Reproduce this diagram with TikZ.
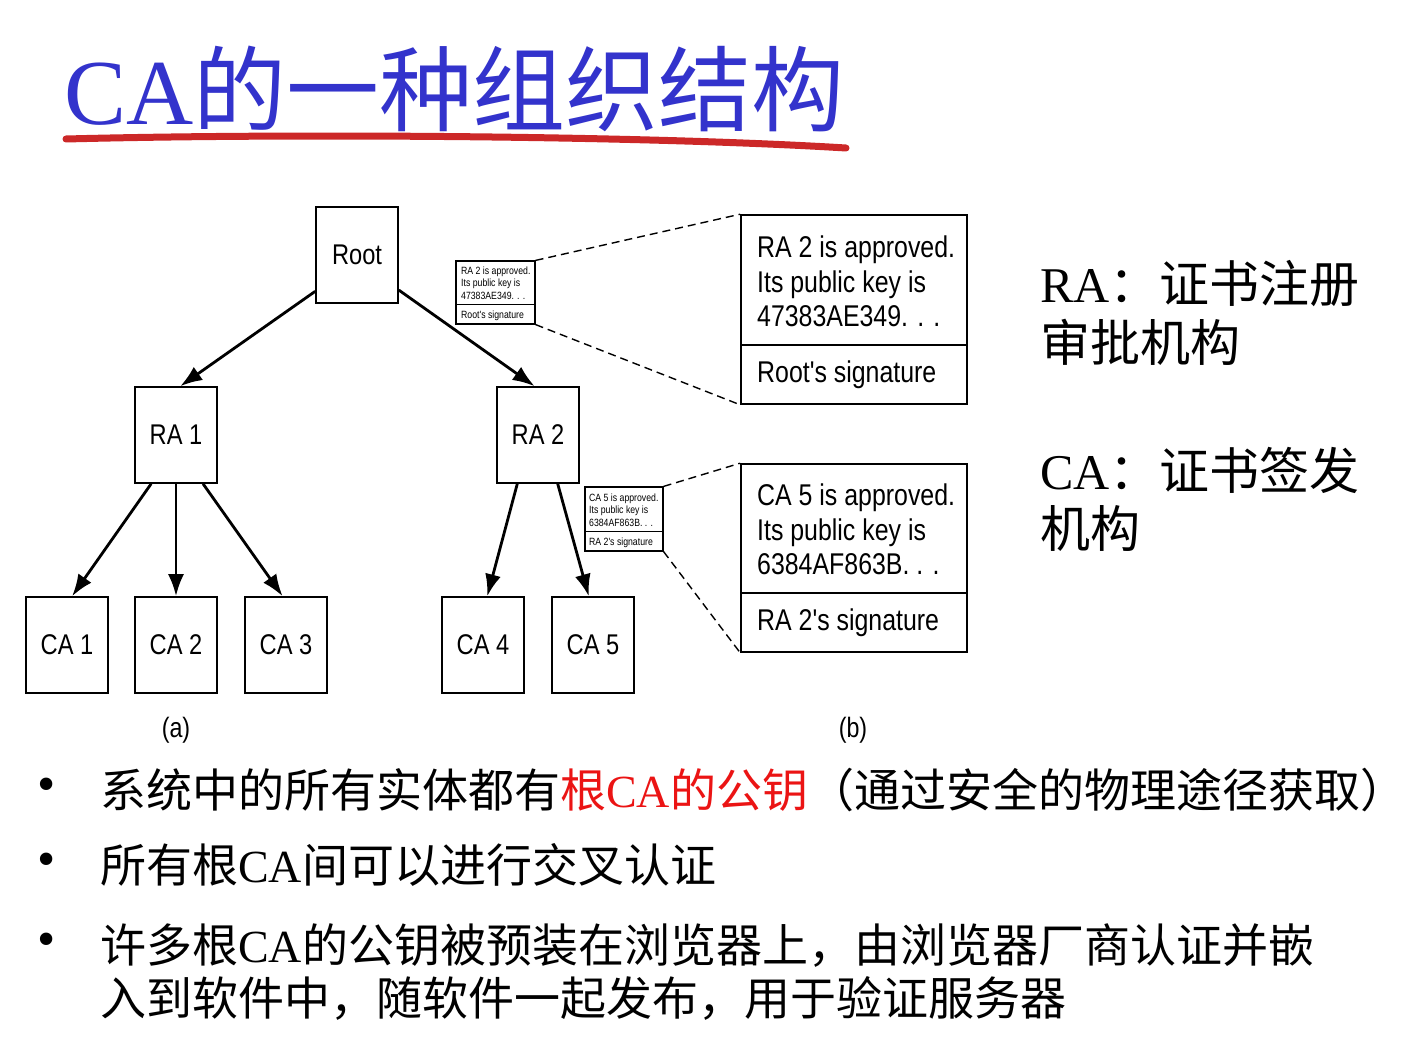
\documentclass[tikz,border=0pt]{standalone}
\usepackage{fontspec}
\setmainfont{Liberation Serif}
\newfontfamily\cjk{Noto Sans CJK SC}
\newfontfamily\helv[FakeStretch=0.83]{Liberation Sans}
\usetikzlibrary{arrows.meta}
\definecolor{titleblue}{RGB}{51,51,204}
\definecolor{ulred}{RGB}{204,40,40}
\definecolor{hlred}{RGB}{235,20,20}
\begin{document}
\begin{tikzpicture}[x=1pt,y=-1pt,
  box/.style={draw,line width=1.6pt,minimum width=82pt,minimum height=96pt,inner sep=0,font=\helv\fontsize{28.5}{30}\selectfont},
  cert/.style={draw,line width=1.6pt,inner sep=0},
  smallcert/.style={draw,line width=1.2pt,inner sep=0},
  bigtxt/.style={anchor=base west,inner sep=0,font=\helv\fontsize{30}{32}\selectfont},
  smalltxt/.style={anchor=base west,inner sep=0,font=\helv\fontsize{10.5}{11}\selectfont},
  arr/.style={line width=2.8pt,-{Latex[length=22pt,width=16pt]}},
  dashline/.style={line width=1.4pt,dash pattern=on 8pt off 5pt},
  sidetxt/.style={anchor=base west,inner sep=0,font=\fontsize{50}{60}\selectfont},
  bultxt/.style={anchor=base west,inner sep=0,font=\fontsize{46}{50}\selectfont},
  bul/.style={anchor=center,inner sep=0,font=\fontsize{52}{56}\selectfont},
  caplbl/.style={inner sep=0,font=\helv\fontsize{28}{30}\selectfont}]
\useasboundingbox (0,0) rectangle (1427,1049);
\fill[white] (0,0) rectangle (1427,1049);

% title
\node (title) [anchor=base west,inner sep=0,text=titleblue,font=\fontsize{93}{100}\selectfont] at (64,124) {CA{\cjk 的一种组织结构}};
\draw[ulred,line width=7pt,line cap=round] (66,139) .. controls (300,133) and (650,136) .. (846,148);

% tree
\node[box] (root) at (357,255) {Root};
\node[box] (ra1) at (176,435) {RA 1};
\node[box] (ra2) at (538,435) {RA 2};
\node[box] (ca1) at (67,645) {CA 1};
\node[box] (ca2) at (176,645) {CA 2};
\node[box] (ca3) at (286,645) {CA 3};
\node[box] (ca4) at (483,645) {CA 4};
\node[box] (ca5) at (593,645) {CA 5};

\draw[arr] (root.221) -- (ra1.85);
\draw[arr] (root.-40) -- (ra2.94);
\draw[arr] (ra1.-117) -- (ca1.84);
\draw[arr] (ra1.south) -- (ca2.north);
\draw[arr] (ra1.-61) -- (ca3.94);
\draw[arr] (ra2.-113) -- (ca4.85);
\draw[arr] (ra2.-68) -- (ca5.95);

% small certificates
\node[smallcert,minimum width=79pt,minimum height=63pt] (sa) at (495.5,292.5) {};
\draw[line width=1.2pt] ([yshift=20pt]sa.south west) -- ([yshift=20pt]sa.south east);
\node[smalltxt] (sa1) at (461,274) {RA 2 is approved.};
\node[smalltxt] (sa2) at (461,286.5) {Its public key is};
\node[smalltxt] (sa3) at (461,299) {47383AE349. . .};
\node[smalltxt] (sa4) at (461,318) {Root's signature};

\node[smallcert,minimum width=78pt,minimum height=64pt] (sb) at (624,519) {};
\draw[line width=1.2pt] ([yshift=20pt]sb.south west) -- ([yshift=20pt]sb.south east);
\node[smalltxt] (sb1) at (589,501) {CA 5 is approved.};
\node[smalltxt] (sb2) at (589,513.5) {Its public key is};
\node[smalltxt] (sb3) at (589,526) {6384AF863B. . .};
\node[smalltxt] (sb4) at (589,545) {RA 2's signature};

% big certificates
\node[cert,minimum width=226pt,minimum height=189pt] (ba) at (854,309.5) {};
\draw[line width=1.6pt] ([yshift=60pt]ba.south west) -- ([yshift=60pt]ba.south east);
\node[bigtxt] (ba1) at (757,257) {RA 2 is approved.};
\node[bigtxt] (ba2) at (757,292) {Its public key is};
\node[bigtxt] (ba3) at (757,326) {47383AE349. . .};
\node[bigtxt] (ba4) at (757,382) {Root's signature};

\node[cert,minimum width=226pt,minimum height=188pt] (bb) at (854,558) {};
\draw[line width=1.6pt] ([yshift=60pt]bb.south west) -- ([yshift=60pt]bb.south east);
\node[bigtxt] (bb1) at (757,505) {CA 5 is approved.};
\node[bigtxt] (bb2) at (757,540) {Its public key is};
\node[bigtxt] (bb3) at (757,574) {6384AF863B. . .};
\node[bigtxt] (bb4) at (757,630) {RA 2's signature};

\draw[dashline] (sa.north east) -- (ba.north west);
\draw[dashline] (sa.south east) -- (ba.south west);
\draw[dashline] (sb.north east) -- (bb.north west);
\draw[dashline] (sb.south east) -- (bb.south west);

\node[caplbl] (capa) at (176,730) {(a)};
\node[caplbl] (capb) at (853,730) {(b)};

% side text
\node[sidetxt] (s1) at (1040,302) {RA{\cjk ：证书注册}};
\node[sidetxt] (s2) at (1040,361) {{\cjk 审批机构}};
\node[sidetxt] (s3) at (1040,489) {CA{\cjk ：证书签发}};
\node[sidetxt] (s4) at (1040,547) {{\cjk 机构}};

% bullets
\node[bul] (b1) at (47,790) {•};
\node[bul] (b2) at (47,865) {•};
\node[bul] (b3) at (47,945) {•};
\node[bultxt] (t1) at (100,807.5) {{\cjk 系统中的所有实体都有}\textcolor{hlred}{{\cjk 根}CA{\cjk 的公钥}}{\cjk （通过安全的物理途径获取）}};
\node[bultxt] (t2) at (100,882.5) {{\cjk 所有根}CA{\cjk 间可以进行交叉认证}};
\node[bultxt] (t3) at (100,962.5) {{\cjk 许多根}CA{\cjk 的公钥被预装在浏览器上，由浏览器厂商认证并嵌}};
\node[bultxt] (t4) at (100,1015.5) {{\cjk 入到软件中，随软件一起发布，用于验证服务器}};
\end{tikzpicture}
\end{document}
